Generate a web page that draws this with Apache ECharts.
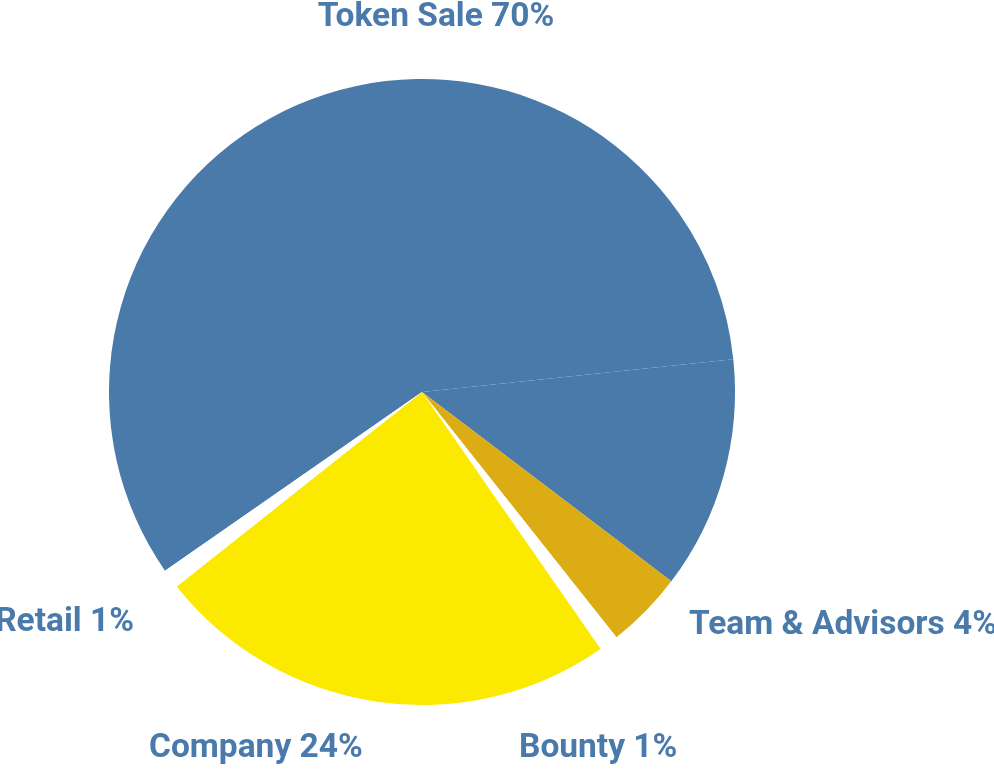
<!DOCTYPE html>
<html>
<head>
<meta charset="utf-8">
<script src="https://cdn.jsdelivr.net/npm/echarts@6/dist/echarts.min.js"></script>
<style>
html,body{margin:0;padding:0;background:#fff;}
#chart{width:994px;height:773px;}
</style>
</head>
<body>
<div id="chart"></div>
<script>
// Data
const categories = ['Token Sale', 'Team & Advisors', 'Bounty', 'Company', 'Retail'];
const shares = [70, 4, 1, 24, 1];
// Token Sale slice is drawn in two parts with a seam in the reference
const tokenSaleParts = [58, 12];
const colors = ['#4a7aa9', '#dcac14', '#ffffff', '#fce900', '#ffffff'];

// Label placement (x, y, align)
const labelPos = {
  'Token Sale': [436, 18, 'center'],
  'Team & Advisors': [689, 626, 'left'],
  'Bounty': [519, 749, 'left'],
  'Company': [149, 749, 'left'],
  'Retail': [134, 623, 'right']
};

const data = [];
tokenSaleParts.forEach((v, i) => {
  data.push({
    name: i === 0 ? categories[0] : categories[0] + ' (part)',
    value: v,
    share: shares[0],
    itemStyle: { color: colors[0] },
    label: { show: i === 0 }
  });
});
for (let i = 1; i < categories.length; i++) {
  data.push({
    name: categories[i],
    value: shares[i],
    share: shares[i],
    itemStyle: { color: colors[i] }
  });
}

const chart = echarts.init(document.getElementById('chart'), null, { renderer: 'canvas' });
chart.setOption({
  backgroundColor: '#ffffff',
  animation: false,
  series: [{
    type: 'pie',
    center: [422, 392],
    radius: [0, 313],
    startAngle: 214.8,
    clockwise: true,
    avoidLabelOverlap: false,
    data: data,
    label: {
      show: true,
      position: 'outside',
      formatter: p => p.name + ' ' + p.data.share + '%',
      color: '#4a7aab',
      fontFamily: 'Roboto, sans-serif',
      fontWeight: 'bold',
      fontSize: 33.5
    },
    labelLine: { show: false },
    labelLayout: function (params) {
      const idx = params.dataIndex;
      const item = data[idx];
      const pos = labelPos[item.name];
      if (!pos) return {};
      return { x: pos[0], y: pos[1], align: pos[2], verticalAlign: 'middle' };
    },
    emphasis: { disabled: true }
  }]
});
</script>
</body>
</html>
